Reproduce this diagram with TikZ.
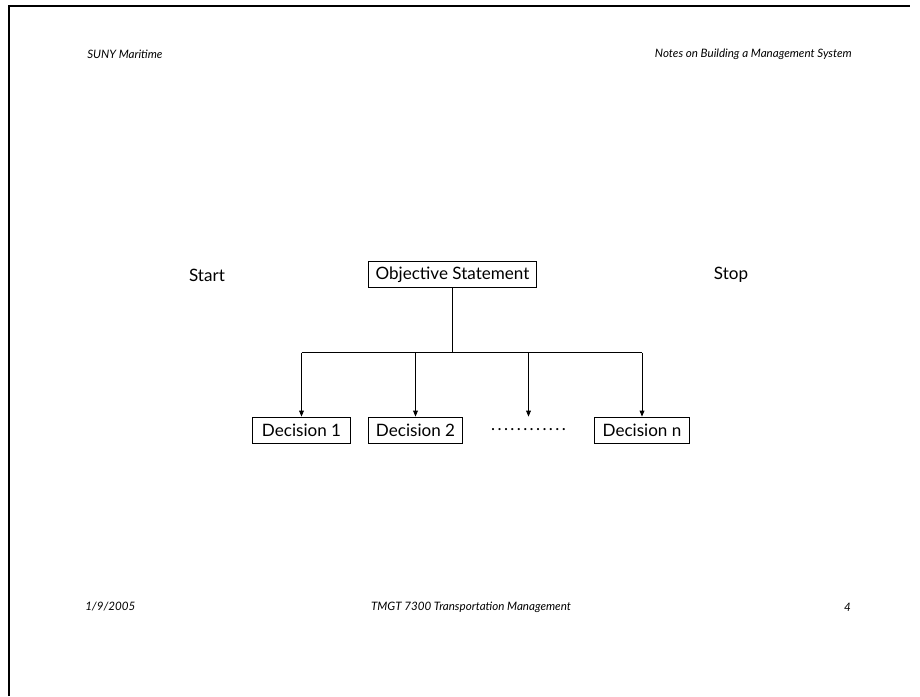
\documentclass[tikz,border=0pt]{standalone}
\usepackage{fontspec}
\setmainfont{Lato}
\usepackage{tikz}
\usetikzlibrary{arrows.meta,positioning,calc}

\begin{document}
\begin{tikzpicture}[x=0.75pt, y=-0.75pt, >={Triangle[length=4.5pt,width=3.6pt]},
  box/.style={draw, line width=0.6pt, inner sep=2pt, minimum height=19.5pt,
    align=center, font=\fontsize{12.8}{14}\selectfont},
  side/.style={font=\fontsize{12.8}{14}\selectfont},
  head/.style={font=\fontsize{8.7}{10}\selectfont\itshape, inner sep=0pt},
  arr/.style={->, line width=0.6pt}]

\useasboundingbox (0,0) rectangle (920,696);

% Frame
\draw[line width=2pt] (9,696) -- (9,6) -- (910,6);

% Header and footer
\node[head, anchor=west] (school) at (87,54) {SUNY Maritime};
\node[head, anchor=east] (title) at (852,54) {Notes on Building a Management System};
\node[head, anchor=west] (date) at (85,607) {1/9/2005};
\node[head] (course) at (471,607) {TMGT 7300 Transportation Management};
\node[head, anchor=east] (page) at (851,607) {4};

% Nodes
\node[side] (start) at (207,275) {Start};
\node[side] (stop) at (731,275) {Stop};
\node[box, minimum width=126.5pt] (obj) at (452.5,274.5) {Objective Statement};
\node[box, minimum width=73pt] (dec1) at (301.5,430) {Decision 1};
\node[box, minimum width=70pt] (dec2) at (415.5,430) {Decision 2};
\node[box, draw=none] (dots) at (528.5,430) {\addfontfeature{LetterSpace=14}............};
\node[box, minimum width=71.5pt] (decn) at (642,430) {Decision n};

% Arrows
\coordinate (split) at (452.5,352.5);
\draw[line width=0.6pt] (obj) -- (split);
\draw[line width=0.6pt] (split -| dec1) -- (split -| decn);
\draw[arr] (split -| dec1) -- (dec1);
\draw[arr] (split -| dec2) -- (dec2);
\draw[arr] (split -| dots) -- (dots);
\draw[arr] (split -| decn) -- (decn);

\end{tikzpicture}
\end{document}
